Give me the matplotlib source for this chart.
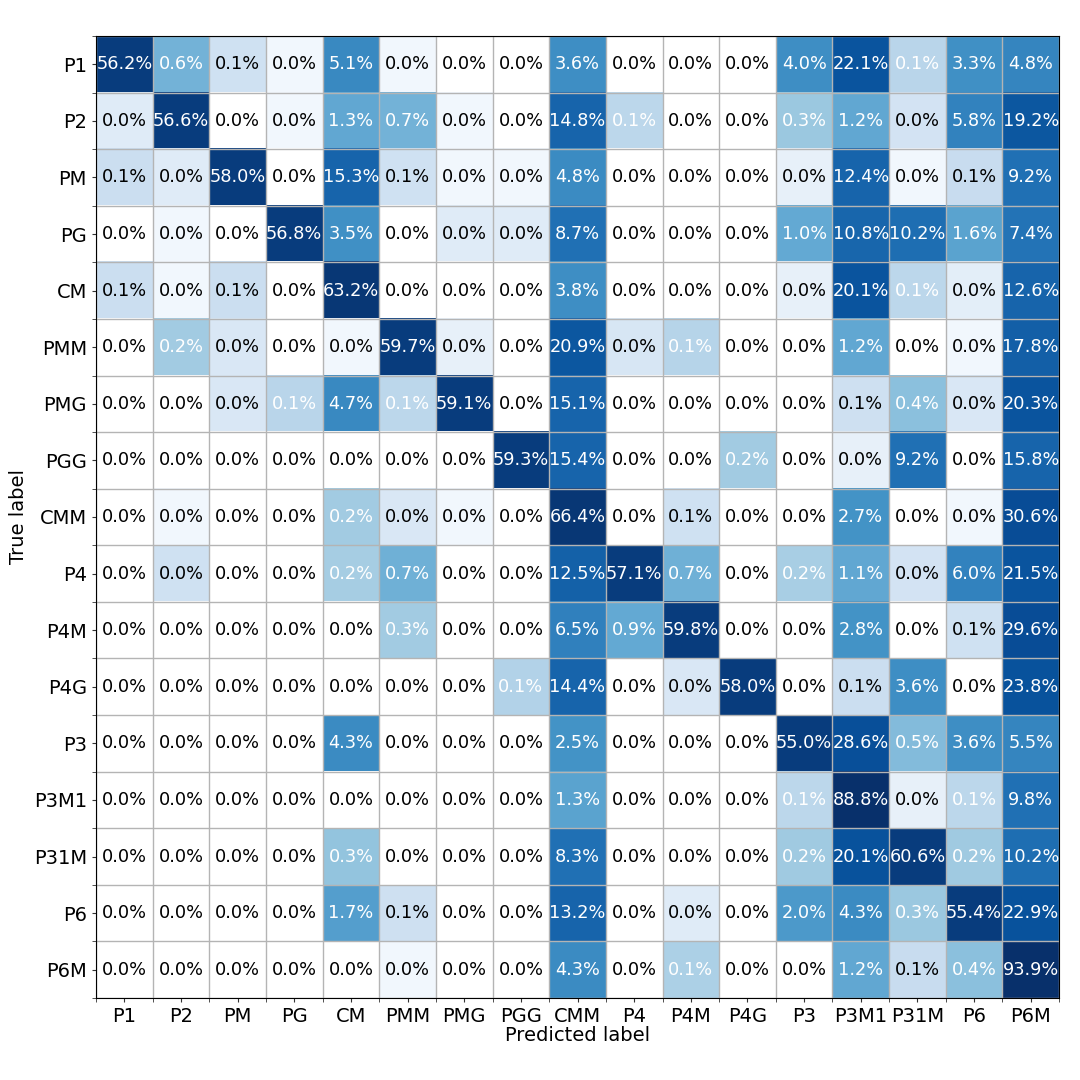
import numpy as np
import matplotlib
matplotlib.use("Agg")
import matplotlib.pyplot as plt

CLASSES = ["P1", "P2", "PM", "PG", "CM", "PMM", "PMG", "PGG", "CMM",
           "P4", "P4M", "P4G", "P3", "P3M1", "P31M", "P6", "P6M"]

# row-normalised percentages (true label rows, predicted label columns)
PERCENT = [
    [56.2, 0.6, 0.1, 0.0, 5.1, 0.0, 0.0, 0.0, 3.6, 0.0, 0.0, 0.0, 4.0, 22.1, 0.1, 3.3, 4.8],
    [0.0, 56.6, 0.0, 0.0, 1.3, 0.7, 0.0, 0.0, 14.8, 0.1, 0.0, 0.0, 0.3, 1.2, 0.0, 5.8, 19.2],
    [0.1, 0.0, 58.0, 0.0, 15.3, 0.1, 0.0, 0.0, 4.8, 0.0, 0.0, 0.0, 0.0, 12.4, 0.0, 0.1, 9.2],
    [0.0, 0.0, 0.0, 56.8, 3.5, 0.0, 0.0, 0.0, 8.7, 0.0, 0.0, 0.0, 1.0, 10.8, 10.2, 1.6, 7.4],
    [0.1, 0.0, 0.1, 0.0, 63.2, 0.0, 0.0, 0.0, 3.8, 0.0, 0.0, 0.0, 0.0, 20.1, 0.1, 0.0, 12.6],
    [0.0, 0.2, 0.0, 0.0, 0.0, 59.7, 0.0, 0.0, 20.9, 0.0, 0.1, 0.0, 0.0, 1.2, 0.0, 0.0, 17.8],
    [0.0, 0.0, 0.0, 0.1, 4.7, 0.1, 59.1, 0.0, 15.1, 0.0, 0.0, 0.0, 0.0, 0.1, 0.4, 0.0, 20.3],
    [0.0, 0.0, 0.0, 0.0, 0.0, 0.0, 0.0, 59.3, 15.4, 0.0, 0.0, 0.2, 0.0, 0.0, 9.2, 0.0, 15.8],
    [0.0, 0.0, 0.0, 0.0, 0.2, 0.0, 0.0, 0.0, 66.4, 0.0, 0.1, 0.0, 0.0, 2.7, 0.0, 0.0, 30.6],
    [0.0, 0.0, 0.0, 0.0, 0.2, 0.7, 0.0, 0.0, 12.5, 57.1, 0.7, 0.0, 0.2, 1.1, 0.0, 6.0, 21.5],
    [0.0, 0.0, 0.0, 0.0, 0.0, 0.3, 0.0, 0.0, 6.5, 0.9, 59.8, 0.0, 0.0, 2.8, 0.0, 0.1, 29.6],
    [0.0, 0.0, 0.0, 0.0, 0.0, 0.0, 0.0, 0.1, 14.4, 0.0, 0.0, 58.0, 0.0, 0.1, 3.6, 0.0, 23.8],
    [0.0, 0.0, 0.0, 0.0, 4.3, 0.0, 0.0, 0.0, 2.5, 0.0, 0.0, 0.0, 55.0, 28.6, 0.5, 3.6, 5.5],
    [0.0, 0.0, 0.0, 0.0, 0.0, 0.0, 0.0, 0.0, 1.3, 0.0, 0.0, 0.0, 0.1, 88.8, 0.0, 0.1, 9.8],
    [0.0, 0.0, 0.0, 0.0, 0.3, 0.0, 0.0, 0.0, 8.3, 0.0, 0.0, 0.0, 0.2, 20.1, 60.6, 0.2, 10.2],
    [0.0, 0.0, 0.0, 0.0, 1.7, 0.1, 0.0, 0.0, 13.2, 0.0, 0.0, 0.0, 2.0, 4.3, 0.3, 55.4, 22.9],
    [0.0, 0.0, 0.0, 0.0, 0.0, 0.0, 0.0, 0.0, 4.3, 0.0, 0.1, 0.0, 0.0, 1.2, 0.1, 0.4, 93.9],
]

# cell shading (log-scaled counts, 0 = no samples)
SHADE = [
    [0.95, 0.48, 0.20, 0.03, 0.66, 0.03, 0.00, 0.00, 0.64, 0.00, 0.00, 0.00, 0.64, 0.86, 0.29, 0.63, 0.67],
    [0.12, 0.95, 0.00, 0.03, 0.53, 0.48, 0.03, 0.00, 0.80, 0.28, 0.00, 0.00, 0.38, 0.53, 0.18, 0.68, 0.85],
    [0.22, 0.12, 0.95, 0.00, 0.80, 0.20, 0.03, 0.03, 0.65, 0.00, 0.00, 0.00, 0.08, 0.80, 0.03, 0.24, 0.75],
    [0.00, 0.03, 0.00, 0.95, 0.63, 0.00, 0.12, 0.12, 0.75, 0.00, 0.00, 0.00, 0.52, 0.79, 0.76, 0.55, 0.74],
    [0.22, 0.03, 0.22, 0.00, 0.97, 0.00, 0.00, 0.00, 0.64, 0.00, 0.00, 0.00, 0.08, 0.86, 0.28, 0.10, 0.80],
    [0.00, 0.36, 0.15, 0.00, 0.03, 0.95, 0.08, 0.00, 0.85, 0.16, 0.30, 0.00, 0.00, 0.53, 0.00, 0.03, 0.82],
    [0.00, 0.00, 0.15, 0.29, 0.66, 0.28, 0.95, 0.00, 0.80, 0.00, 0.00, 0.00, 0.00, 0.21, 0.42, 0.15, 0.86],
    [0.00, 0.00, 0.00, 0.00, 0.00, 0.00, 0.00, 0.95, 0.80, 0.00, 0.00, 0.36, 0.00, 0.08, 0.75, 0.00, 0.80],
    [0.00, 0.03, 0.00, 0.00, 0.36, 0.15, 0.03, 0.00, 0.97, 0.00, 0.20, 0.00, 0.00, 0.62, 0.00, 0.03, 0.89],
    [0.00, 0.20, 0.00, 0.00, 0.35, 0.49, 0.00, 0.00, 0.81, 0.95, 0.49, 0.00, 0.34, 0.53, 0.18, 0.68, 0.86],
    [0.00, 0.00, 0.00, 0.00, 0.00, 0.36, 0.00, 0.00, 0.69, 0.52, 0.95, 0.00, 0.00, 0.62, 0.00, 0.20, 0.89],
    [0.00, 0.00, 0.00, 0.00, 0.00, 0.00, 0.00, 0.31, 0.80, 0.00, 0.15, 0.95, 0.00, 0.22, 0.64, 0.00, 0.87],
    [0.00, 0.00, 0.00, 0.00, 0.65, 0.00, 0.00, 0.00, 0.62, 0.00, 0.00, 0.00, 0.95, 0.88, 0.44, 0.64, 0.67],
    [0.00, 0.00, 0.00, 0.00, 0.00, 0.00, 0.00, 0.00, 0.55, 0.00, 0.00, 0.00, 0.28, 1.00, 0.08, 0.28, 0.75],
    [0.00, 0.00, 0.00, 0.00, 0.40, 0.00, 0.00, 0.00, 0.75, 0.00, 0.00, 0.00, 0.37, 0.87, 0.95, 0.37, 0.76],
    [0.00, 0.00, 0.00, 0.00, 0.57, 0.21, 0.00, 0.00, 0.80, 0.00, 0.12, 0.00, 0.59, 0.65, 0.38, 0.95, 0.87],
    [0.00, 0.00, 0.00, 0.00, 0.00, 0.03, 0.00, 0.00, 0.65, 0.00, 0.33, 0.00, 0.00, 0.53, 0.24, 0.42, 1.00],
]


def plot_confusion():
    pct = np.array(PERCENT)
    shade = np.ma.masked_equal(np.array(SHADE), 0.0)
    n = len(CLASSES)

    cmap = plt.get_cmap("Blues").copy()
    cmap.set_bad("white")

    fig = plt.figure(figsize=(10.8, 10.8), dpi=100)
    ax = fig.add_axes([0.0889, 0.0759, 0.8917, 0.8908])
    ax.imshow(shade, cmap=cmap, vmin=0, vmax=1, aspect="auto", interpolation="nearest")

    # thin grey cell borders + small ticks on the boundaries
    ax.set_xticks(np.arange(-0.5, n, 1), minor=True)
    ax.set_yticks(np.arange(-0.5, n, 1), minor=True)
    ax.grid(which="minor", color="#b4b4b4", linewidth=1)
    ax.tick_params(which="both", length=3, color="#333333")

    ax.set_xticks(np.arange(n))
    ax.set_yticks(np.arange(n))
    ax.set_xticklabels(CLASSES, fontsize=14)
    ax.set_yticklabels(CLASSES, fontsize=14)
    ax.set_xlabel("Predicted label", fontsize=14, labelpad=0)
    ax.set_ylabel("True label", fontsize=14)
    ax.set_xlim(-0.5, n - 0.5)
    ax.set_ylim(n - 0.5, -0.5)

    for i in range(n):
        for j in range(n):
            s = SHADE[i][j]
            ax.text(j, i, f"{pct[i, j]:.1f}%", ha="center", va="center",
                    fontsize=12.8, color="white" if s > 0.26 else "black")

    fig.savefig("out.png", dpi=100)
    plt.close(fig)


if __name__ == "__main__":
    plot_confusion()
